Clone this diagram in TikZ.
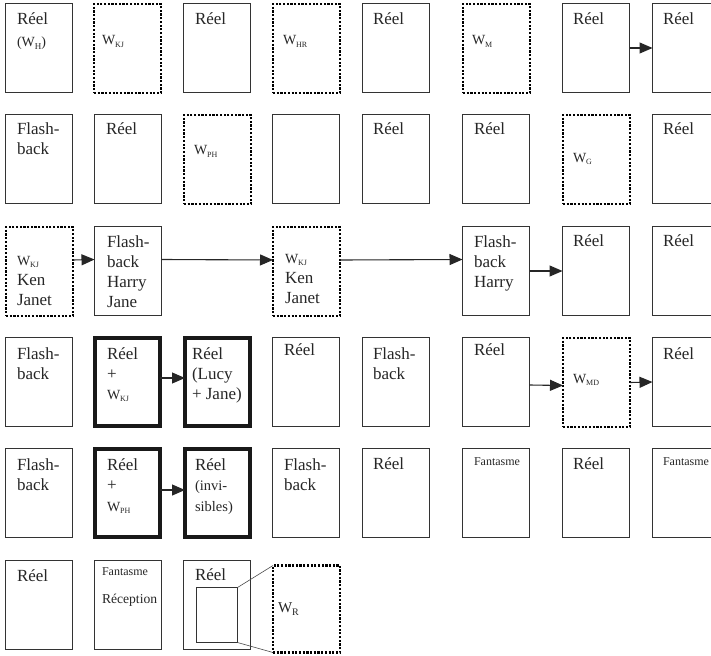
\documentclass[tikz,border=0pt]{standalone}
\usepackage{fontspec}
\setmainfont{Liberation Serif}
\usetikzlibrary{arrows.meta}
\newcommand\fA{\fontsize{17}{20}\selectfont}
\newcommand\Wx[1]{{\fontsize{14}{16}\selectfont W}\raisebox{-2.5pt}{\fontsize{8}{8}\selectfont #1}}
\newcommand\fFan{\fontsize{12}{14}\selectfont}
\newcommand\ml[1]{\begin{tabular}[t]{@{}l@{}}#1\end{tabular}}
\tikzset{
  box/.style={draw=black!80, line width=0.9pt, anchor=north west, inner sep=0pt, outer sep=0pt, minimum width=67pt, minimum height=89pt},
  dbox/.style={box, draw=black, line width=2.2pt, dash pattern=on 2.2pt off 1.5pt},
  tbox/.style={box, draw=black!90, line width=4pt, minimum width=65pt, minimum height=88pt},
  txt/.style={anchor=base west, inner sep=0pt, outer sep=0pt, font=\fA, text=black!85},
  arr/.style={draw=black!85, line width=1.1pt, -{Triangle[length=13pt,width=11pt]}},
  lnk/.style={draw=black!70, line width=0.6pt}
}
\begin{document}
\begin{tikzpicture}[x=1pt,y=-1pt]
\useasboundingbox (0,0) rectangle (711,655);
\clip (0,0) rectangle (711,655);
% ---------- Row 1
\node[box]  (a1) at (5.5,3.5) {};
\node[dbox] (a2) at (94,4) {};
\node[box]  (a3) at (183.5,3.5) {};
\node[dbox] (a4) at (273,4) {};
\node[box]  (a5) at (362.5,3.5) {};
\node[dbox] (a6) at (463,4) {};
\node[box]  (a7) at (562.5,3.5) {};
\node[box]  (a8) at (652.5,3.5) {};
\node[txt] (ta1) at (17,25) {\ml{Réel\\[2pt]{\fontsize{14}{16}\selectfont (W\raisebox{-2.5pt}{\fontsize{9}{9}\selectfont H})}}};
\node[txt] (ta2) at (102,45) {\Wx{KJ}};
\node[txt] (ta3) at (195,25) {Réel};
\node[txt] (ta4) at (283,45) {\Wx{HR}};
\node[txt] (ta5) at (373,25) {Réel};
\node[txt] (ta6) at (472,45) {\Wx{M}};
\node[txt] (ta7) at (573,25) {Réel};
\node[txt] (ta8) at (663,25) {Réel};
\draw[arr] (a7.east) -- (a8.west);
% ---------- Row 2
\node[box]  (b1) at (5.5,114.5) {};
\node[box]  (b2) at (94.5,114.5) {};
\node[dbox] (b3) at (184,115) {};
\node[box]  (b4) at (272.5,114.5) {};
\node[box]  (b5) at (362.5,114.5) {};
\node[box]  (b6) at (462.5,114.5) {};
\node[dbox] (b7) at (563,115) {};
\node[box]  (b8) at (652.5,114.5) {};
\node[txt] (tb1) at (17,135) {\ml{Flash-\\back}};
\node[txt] (tb2) at (106,135) {Réel};
\node[txt] (tb3) at (194,155) {\Wx{PH}};
\node[txt] (tb5) at (373,135) {Réel};
\node[txt] (tb6) at (474,135) {Réel};
\node[txt] (tb7) at (573,162) {\Wx{G}};
\node[txt] (tb8) at (663,135) {Réel};
% ---------- Row 3
\node[dbox] (c1) at (6,227) {};
\node[box]  (c2) at (94.5,226.5) {};
\node[dbox] (c3) at (273,227) {};
\node[box]  (c4) at (462.5,226.5) {};
\node[box]  (c5) at (562.5,226.5) {};
\node[box]  (c6) at (652.5,226.5) {};
\node[txt] (tc1) at (17,265) {\ml{\Wx{KJ}\\Ken\\Janet}};
\node[txt] (tc2) at (107,247) {\ml{Flash-\\back\\Harry\\Jane}};
\node[txt] (tc3) at (285,263) {\ml{\Wx{KJ}\\Ken\\Janet}};
\node[txt] (tc4) at (474,247) {\ml{Flash-\\back\\Harry}};
\node[txt] (tc5) at (573,246) {Réel};
\node[txt] (tc6) at (663,246) {Réel};
\draw[arr] ([yshift=11.5pt]c1.east) -- ([yshift=11.5pt]c2.west);
\draw[arr] ([yshift=11.5pt]c2.east) -- ([yshift=11.5pt]c3.west);
\draw[arr] ([yshift=11.5pt]c3.east) -- ([yshift=11.5pt]c4.west);
\draw[arr] (c4.east) -- (c5.west);
% ---------- Row 4
\node[box]  (d1) at (5.5,337.5) {};
\node[tbox] (d2) at (95,338) {};
\node[tbox] (d3) at (185,338) {};
\node[box]  (d4) at (272.5,337.5) {};
\node[box]  (d5) at (362.5,337.5) {};
\node[box]  (d6) at (462.5,337.5) {};
\node[dbox] (d7) at (563,338) {};
\node[box]  (d8) at (652.5,337.5) {};
\node[txt] (td1) at (17,359) {\ml{Flash-\\back}};
\node[txt] (td2) at (107,359) {\ml{Réel\\+\\\Wx{KJ}}};
\node[txt] (td3) at (192,359) {\ml{Réel\\(Lucy\\+ Jane)}};
\node[txt] (td4) at (284,355) {Réel};
\node[txt] (td5) at (373,359) {\ml{Flash-\\back}};
\node[txt] (td6) at (474,355) {Réel};
\node[txt] (td7) at (573,383) {\Wx{MD}};
\node[txt] (td8) at (663,359) {Réel};
\draw[arr] ([yshift=4pt]d2.east) -- ([yshift=4pt]d3.west);
\draw[arr] ([yshift=-3pt]d6.east) -- ([yshift=-3pt]d7.west);
\draw[arr] (d7.east) -- (d8.west);
% ---------- Row 5
\node[box]  (e1) at (5.5,448.5) {};
\node[tbox] (e2) at (95,449) {};
\node[tbox] (e3) at (185,449) {};
\node[box]  (e4) at (272.5,448.5) {};
\node[box]  (e5) at (362.5,448.5) {};
\node[box]  (e6) at (462.5,448.5) {};
\node[box]  (e7) at (562.5,448.5) {};
\node[box]  (e8) at (652.5,448.5) {};
\node[txt] (te1) at (17,470) {\ml{Flash-\\back}};
\node[txt] (te2) at (107,470) {\ml{Réel\\+\\[1pt]\Wx{PH}}};
\node[txt] (te3) at (195,470) {\ml{Réel\\{\fontsize{14.5}{16}\selectfont (invi-}\\[1pt]{\fontsize{14.5}{16}\selectfont sibles)}}};
\node[txt] (te4) at (284,470) {\ml{Flash-\\back}};
\node[txt] (te5) at (373,469) {Réel};
\node[txt,font=\fFan] (te6) at (474,465) {Fantasme};
\node[txt] (te7) at (573,469) {Réel};
\node[txt,font=\fFan] (te8) at (663,465) {Fantasme};
\draw[arr] ([yshift=3pt]e2.east) -- ([yshift=3pt]e3.west);
% ---------- Row 6
\node[box]  (f1) at (5.5,560.5) {};
\node[box]  (f2) at (94.5,560.5) {};
\node[box]  (f3) at (183.5,560.5) {};
\node[box, minimum width=41pt, minimum height=55pt] (f3i) at (196.5,587.5) {};
\node[dbox, minimum height=87pt] (f4) at (273,565.5) {};
\node[txt] (tf1) at (17,581) {Réel};
\node[txt,font=\fFan] (tf2a) at (102,575) {Fantasme};
\node[txt,font=\fontsize{13.6}{16}\selectfont] (tf2b) at (102,603) {Réception};
\node[txt] (tf3) at (195,580) {Réel};
\node[txt] (tf4) at (278,612) {{\fontsize{15}{16}\selectfont W}\raisebox{-3pt}{\fontsize{10}{10}\selectfont R}};
\draw[lnk] (f3i.north east) -- (f4.north west);
\draw[lnk] (f3i.south east) -- (f4.south west);
\end{tikzpicture}
\end{document}
